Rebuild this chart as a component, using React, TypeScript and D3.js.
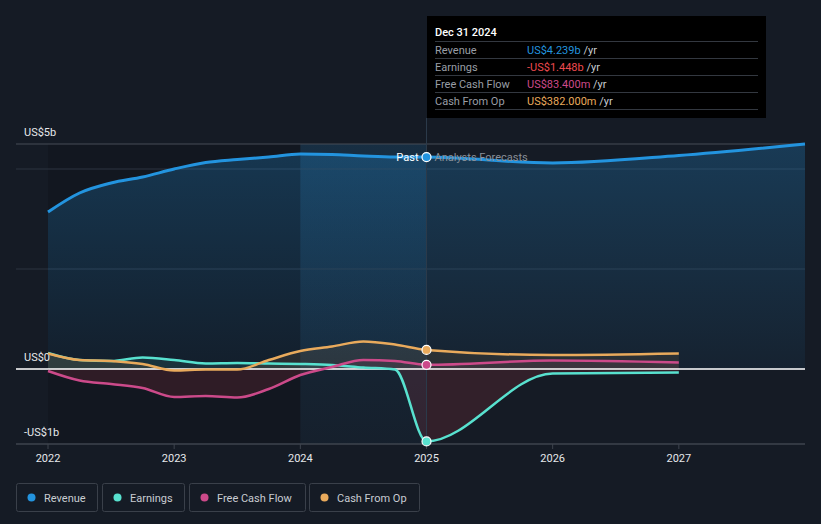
import React from "react";
import * as d3 from "d3";

const W = 821;
const H = 524;

// quarterly past points (decimal years) + forecast points
const pastYears = [2022, 2022.25, 2022.5, 2022.75, 2023, 2023.25, 2023.5, 2023.75, 2024, 2024.25, 2024.5, 2024.75, 2025];
const forecastYears = [2026, 2027];
const revenueForecastYears = [2026, 2027, 2028];

// values in US$ billions
const revenuePast = [3.14, 3.52, 3.72, 3.84, 4.0, 4.13, 4.19, 4.24, 4.3, 4.29, 4.26, 4.24, 4.239];
const revenueForecast = [4.12, 4.27, 4.5];
const earningsPast = [0.32, 0.18, 0.16, 0.23, 0.18, 0.11, 0.12, 0.11, 0.1, 0.08, 0.03, -0.01, -1.448];
const earningsForecast = [-0.09, -0.07];
const fcfPast = [-0.04, -0.23, -0.3, -0.38, -0.56, -0.54, -0.57, -0.4, -0.12, 0.04, 0.18, 0.16, 0.0834];
const fcfForecast = [0.17, 0.13];
const cfoPast = [0.31, 0.18, 0.16, 0.1, -0.03, -0.01, -0.01, 0.18, 0.36, 0.45, 0.55, 0.49, 0.382];
const cfoForecast = [0.28, 0.31];

const xTicks = [2022, 2023, 2024, 2025, 2026, 2027];
const yGrid = [0, 2, 4];
const yLabels = [
  { v: 4.5, t: "US$5b" },
  { v: 0, t: "US$0" },
  { v: -1.5, t: "-US$1b" },
];

const seriesNames = ["Revenue", "Earnings", "Free Cash Flow", "Cash From Op"];
const seriesColors = ["#2394df", "#58e1cf", "#cc4a8a", "#e9aa5c"];
const tooltipValues = ["US$4.239b", "-US$1.448b", "US$83.400m", "US$382.000m"];
const tooltipValueColors = ["#2394df", "#ec4a4f", "#cc4a8a", "#e9aa5c"];

type P = { x: number; v: number };
const zip = (xs: number[], vs: number[]): P[] => xs.map((x, i) => ({ x, v: vs[i] }));

const revenue = zip(pastYears.concat(revenueForecastYears), revenuePast.concat(revenueForecast));
const earnings = zip(pastYears.concat(forecastYears), earningsPast.concat(earningsForecast));
const fcf = zip(pastYears.concat(forecastYears), fcfPast.concat(fcfForecast));
const cfo = zip(pastYears.concat(forecastYears), cfoPast.concat(cfoForecast));

const x = d3.scaleLinear().domain([2022, 2028]).range([48, 805]);
const y = d3.scaleLinear().domain([-1.5, 4.5]).range([444, 144]);

const line = d3
  .line<P>()
  .x((d) => x(d.x))
  .y((d) => y(d.v))
  .curve(d3.curveMonotoneX);
const area = d3
  .area<P>()
  .x((d) => x(d.x))
  .y0(y(0))
  .y1((d) => y(d.v))
  .curve(d3.curveMonotoneX);

const FONT = "Roboto, 'Noto Sans', sans-serif";
const NOW = 2025;

export default function App() {
  const others = [earnings, fcf, cfo];
  const otherColors = seriesColors.slice(1);
  const zeroY = y(0);
  const nowX = x(NOW);
  const legendX = [16, 102, 189, 309];
  const legendW = [81, 82, 116, 110];
  return (
    <div style={{ position: "fixed", left: 0, top: 0, width: W, height: H, background: "#151b25" }}>
      <svg width={W} height={H} style={{ display: "block", fontFamily: FONT }}>
        <defs>
          <linearGradient id="revGrad" x1="0" y1="0" x2="0" y2="1">
            <stop offset="0" stopColor="#2394df" stopOpacity={0.26} />
            <stop offset="1" stopColor="#2394df" stopOpacity={0.06} />
          </linearGradient>
          <linearGradient id="bandGrad" x1="0" y1="0" x2="0" y2="1">
            <stop offset="0" stopColor="#2394df" stopOpacity={0.16} />
            <stop offset="1" stopColor="#2394df" stopOpacity={0.04} />
          </linearGradient>
          <clipPath id="above">
            <rect x={0} y={0} width={W} height={zeroY} />
          </clipPath>
          <clipPath id="below">
            <rect x={0} y={zeroY} width={W} height={H - zeroY} />
          </clipPath>
        </defs>
        <rect x={0} y={0} width={W} height={H} fill="#151b25" />
        {/* past darkening */}
        <rect x={x(2022)} y={144} width={x(2024) - x(2022)} height={300} fill="#000" opacity={0.12} />
        {/* last-year band */}
        <rect x={x(2024)} y={144} width={nowX - x(2024)} height={300} fill="url(#bandGrad)" />
        {/* grid */}
        <line x1={16} x2={805} y1={144} y2={144} stroke="#464c56" strokeWidth={1} />
        {yGrid.map((g) => (
          <line key={g} x1={16} x2={805} y1={y(g)} y2={y(g)} stroke="#2c3540" strokeWidth={1} />
        ))}
        {/* revenue area */}
        <path d={area(revenue) || ""} fill="url(#revGrad)" />
        {/* other areas */}
        {others.map((s, i) => (
          <g key={i}>
            <path d={area(s) || ""} fill={otherColors[i]} opacity={0.1} clipPath="url(#above)" />
            <path d={area(s) || ""} fill="#e0414e" opacity={0.14} clipPath="url(#below)" />
          </g>
        ))}
        {/* zero line */}
        <line x1={16} x2={805} y1={zeroY} y2={zeroY} stroke="#ffffff" strokeWidth={1.5} />
        {/* now line */}
        <line x1={nowX} x2={nowX} y1={118} y2={444} stroke="#2b3a4a" strokeWidth={1} />
        {/* axis */}
        <line x1={16} x2={805} y1={444} y2={444} stroke="#3e444e" strokeWidth={1.5} />
        {xTicks.map((t) => (
          <g key={t}>
            <line x1={x(t)} x2={x(t)} y1={444} y2={449} stroke="#3e444e" strokeWidth={1} />
            <text x={x(t)} y={462} fill="#e6e8eb" fontSize={11} textAnchor="middle">
              {t}
            </text>
          </g>
        ))}
        {yLabels.map((l) => (
          <text key={l.t} x={24} y={y(l.v) - 8} fill="#e6e8eb" fontSize={11}>
            {l.t}
          </text>
        ))}
        {/* lines */}
        {[revenue, earnings, fcf, cfo].map((s, i) => (
          <path
            key={i}
            d={line(s) || ""}
            fill="none"
            stroke={seriesColors[i]}
            strokeWidth={i === 0 ? 3 : 2.5}
          />
        ))}
        {/* past / forecasts labels */}
        <text x={nowX - 8} y={161} fill="#ffffff" fontSize={11} textAnchor="end">
          Past
        </text>
        <text x={nowX + 8} y={161} fill="#8a9099" fontSize={11}>
          Analysts Forecasts
        </text>
        {/* now dots */}
        {[revenue, earnings, fcf, cfo].map((s, i) => {
          const p = s.find((d) => d.x === NOW)!;
          return (
            <circle key={i} cx={x(p.x)} cy={y(p.v)} r={4.5} fill={seriesColors[i]} stroke="#ffffff" strokeWidth={1.2} />
          );
        })}
        {/* tooltip */}
        <rect x={427} y={16} width={339} height={102} fill="#000000" />
        <text x={435} y={36} fill="#ffffff" fontSize={11} fontWeight={500}>
          Dec 31 2024
        </text>
        {seriesNames.map((n, i) => {
          const top = 41.5 + i * 17;
          return (
            <g key={n}>
              <line x1={435} x2={758} y1={top} y2={top} stroke="#333840" strokeWidth={1} />
              <text x={435} y={top + 12} fill="#999ea6" fontSize={11}>
                {n}
              </text>
              <text x={527} y={top + 12} fontSize={11}>
                <tspan fill={tooltipValueColors[i]}>{tooltipValues[i]}</tspan>
                <tspan fill="#c8ccd2"> /yr</tspan>
              </text>
            </g>
          );
        })}
        <line x1={435} x2={758} y1={41.5 + 4 * 17} y2={41.5 + 4 * 17} stroke="#333840" strokeWidth={1} />
        {/* legend */}
        {seriesNames.map((n, i) => (
          <g key={n}>
            <rect x={legendX[i] + 0.5} y={483.5} width={legendW[i]} height={28} rx={2} fill="none" stroke="#3a404a" />
            <circle cx={legendX[i] + 15.5} cy={497.5} r={4} fill={seriesColors[i]} />
            <text x={legendX[i] + 28} y={501.5} fill="#c8ccd2" fontSize={11}>
              {n}
            </text>
          </g>
        ))}
      </svg>
    </div>
  );
}
